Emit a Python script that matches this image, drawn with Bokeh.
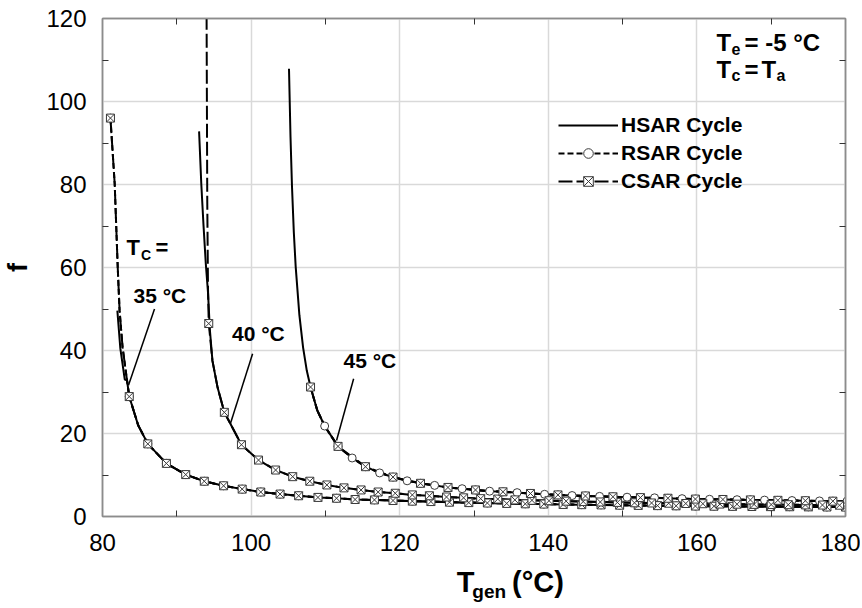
import math
from bokeh.plotting import figure
from bokeh.layouts import column
from bokeh.models import Range1d, LinearAxis, FixedTicker, Label, Legend, LegendItem
from bokeh.embed import file_html
from bokeh.resources import INLINE

FONT = "Liberation Sans"

# ---------------- data ----------------
X_TICKS = [80, 100, 120, 140, 160, 180]
X_MINOR = [90, 110, 130, 150, 170]
Y_TICKS = [0, 20, 40, 60, 80, 100, 120]
Y_MINOR = [10, 30, 50, 70, 90, 110]

# Tc = 35 C : RSAR and CSAR (marked points)
T35 = [81.07, 83.6, 86.1, 88.6, 91.2, 93.7, 96.3, 98.8, 101.3, 103.9, 106.4,
       109.0, 111.5, 114.0, 116.6, 119.1, 121.7, 124.2, 126.7, 129.3, 131.8,
       134.4, 136.9, 139.4, 142.0, 144.5, 147.1, 149.6, 152.1, 154.7, 157.2,
       159.8, 162.3, 164.8, 167.4, 169.9, 172.5, 175.0, 177.5, 180.0]
F35 = [96.0, 28.9, 17.5, 12.8, 10.1, 8.5, 7.4, 6.6, 5.9, 5.4, 5.0,
       4.6, 4.4, 4.1, 4.0, 3.85, 3.7, 3.6, 3.45, 3.35, 3.25,
       3.15, 3.05, 3.0, 2.9, 2.85, 2.8, 2.72, 2.67, 2.62, 2.57,
       2.52, 2.48, 2.45, 2.41, 2.38, 2.35, 2.32, 2.29, 2.27]
T35_EXTRA = [81.64, 82.05, 82.3, 82.7, 83.3, 84.8]
F35_EXTRA = [80.2, 60.0, 49.6, 40.8, 32.8, 22.0]
HSAR35_T = [82.0, 82.4, 83.0]
HSAR35_F = [49.6, 40.5, 33.0]

# Tc = 40 C : CSAR (marked points)
T40 = [94.3, 96.4, 98.7, 101.0, 103.3, 105.6, 107.9, 110.2, 112.5, 114.8,
       117.1, 119.4, 121.7, 124.0, 126.3, 128.6, 130.9, 133.2, 135.5, 137.8,
       140.1, 142.4, 144.7, 147.0, 149.3, 151.6, 153.9, 156.2, 158.5, 160.8,
       163.1, 165.4, 167.7, 170.0, 172.3, 174.6, 176.9, 179.2, 181.5]
F40 = [46.5, 25.1, 17.3, 13.6, 11.2, 9.6, 8.5, 7.6, 6.9, 6.4,
       5.9, 5.6, 5.2, 5.0, 4.7, 4.5, 4.3, 4.2, 4.0, 3.9,
       3.8, 3.7, 3.6, 3.5, 3.4, 3.3, 3.26, 3.2, 3.13, 3.08,
       3.0, 2.97, 2.92, 2.88, 2.84, 2.8, 2.76, 2.72, 2.7]
T40_EXTRA = [94.0, 94.1, 94.2, 94.8, 95.5]
F40_EXTRA = [125.0, 76.0, 55.0, 37.5, 31.0]
HSAR40_T = [93.0, 93.3, 93.6, 93.9, 94.2, 94.45, 94.8, 95.5]
HSAR40_F = [92.8, 80.0, 70.0, 61.0, 54.0, 45.0, 37.5, 31.0]

# Tc = 45 C : RSAR (marked points)
T45R = [108.0, 109.9, 111.7, 113.6, 115.4, 117.3, 119.1, 121.0, 122.8, 124.7,
        126.5, 128.4, 130.2, 132.1, 133.9, 135.8, 137.6, 139.5, 141.3, 143.2,
        145.0, 146.9, 148.7, 150.6, 152.4, 154.3, 156.1, 158.0, 159.8, 161.7,
        163.5, 165.4, 167.2, 169.1, 170.9, 172.8, 174.6, 176.5, 178.3, 180.2]
F45R = [31.2, 21.8, 16.9, 14.1, 12.0, 10.5, 9.5, 8.6, 8.0, 7.5,
        7.0, 6.7, 6.4, 6.1, 5.95, 5.75, 5.55, 5.35, 5.2, 5.05,
        4.95, 4.85, 4.75, 4.65, 4.55, 4.5, 4.4, 4.3, 4.2, 4.15,
        4.1, 4.05, 4.0, 3.95, 3.9, 3.85, 3.8, 3.75, 3.7, 3.7]
T45R_EXTRA = [108.9]
F45R_EXTRA = [25.6]
# Tc = 45 C : CSAR (marked points)
T45C = [108.0, 111.7, 115.4, 119.1, 122.8, 126.5, 130.2, 133.9, 137.6, 141.3,
        145.0, 148.7, 152.4, 156.1, 159.8, 163.5, 167.2, 170.9, 174.6, 178.3, 182.0]
F45C = [31.2, 16.9, 12.0, 9.5, 8.0, 7.0, 6.4, 5.95, 5.55, 5.2,
        4.95, 4.75, 4.55, 4.4, 4.2, 4.1, 4.0, 3.9, 3.8, 3.7, 3.65]
T45C_EXTRA = [108.9, 109.9]
F45C_EXTRA = [25.6, 21.8]
HSAR45_T = [105.1, 105.3, 105.5, 105.75, 106.0, 106.5, 107.0, 107.5]
HSAR45_F = [107.9, 91.7, 79.7, 68.5, 60.2, 48.5, 40.7, 35.1]

LEGEND_LABELS = ["HSAR Cycle", "RSAR Cycle", "CSAR Cycle"]


def merged(*pairs):
    pts = set()
    for ts, fs in pairs:
        pts.update(zip(ts, fs))
    pts = sorted(pts)
    return [a for a, _ in pts], [b for _, b in pts]


def with_head(head_t, head_f, tail_t, tail_f):
    t = list(head_t) + [a for a in tail_t if a > max(head_t)]
    f = list(head_f) + [b for a, b in zip(tail_t, tail_f) if a > max(head_t)]
    return t, f


# ---------------- main figure ----------------
FL, FT, FR, FB = 97, 18, 845, 516   # frame edges on the page (px)
W = 860
H_MAIN = 562
H_STRIP = 42
p = figure(width=W, height=H_MAIN, output_backend="svg", toolbar_location=None,
           x_range=Range1d(80, 180), y_range=Range1d(0, 120),
           min_border_left=FL, min_border_top=FT,
           min_border_right=W - FR, min_border_bottom=H_MAIN - FB)
p.background_fill_color = "white"
p.border_fill_color = "white"
p.outline_line_color = "#8c8c8c"
p.outline_line_width = 1.5

AX_COL = "#8c8c8c"


def style_axis(ax, labels=True):
    ax.axis_line_color = AX_COL
    ax.axis_line_width = 1.5
    ax.major_tick_in = 0
    ax.major_tick_out = 0
    ax.minor_tick_in = 6
    ax.minor_tick_out = 0
    ax.minor_tick_line_color = "#333333"
    ax.minor_tick_line_width = 1
    if labels:
        ax.major_label_text_font = FONT
        ax.major_label_text_font_size = "24px"
        ax.major_label_text_color = "black"


p.xaxis.ticker = FixedTicker(ticks=X_TICKS, minor_ticks=X_MINOR)
p.yaxis.ticker = FixedTicker(ticks=Y_TICKS, minor_ticks=Y_MINOR)
style_axis(p.xaxis[0])
style_axis(p.yaxis[0])
p.xaxis.major_label_standoff = 17
p.yaxis.major_label_standoff = 16
p.yaxis.axis_label = "f"
p.yaxis.axis_label_text_font = FONT
p.yaxis.axis_label_text_font_style = "bold"
p.yaxis.axis_label_text_font_size = "27px"
p.yaxis.axis_label_text_color = "black"
p.yaxis.axis_label_standoff = 10

# mirrored minor ticks on top / right (no major ticks, so no labels)
top = LinearAxis(ticker=FixedTicker(ticks=[], minor_ticks=X_MINOR))
right = LinearAxis(ticker=FixedTicker(ticks=[], minor_ticks=Y_MINOR))
style_axis(top, labels=False)
style_axis(right, labels=False)
p.add_layout(top, "above")
p.add_layout(right, "right")

p.xgrid.ticker = FixedTicker(ticks=X_TICKS)
p.ygrid.ticker = FixedTicker(ticks=Y_TICKS)
for g in (p.xgrid[0], p.ygrid[0]):
    g.grid_line_color = "#d9d9d9"
    g.grid_line_width = 1.5

LW = 2
DASH_R = "6 3"
DASH_C = "14 4"

# lines
h35 = with_head(HSAR35_T, HSAR35_F, *merged((T35, F35), (T35_EXTRA, F35_EXTRA)))
h40 = with_head(HSAR40_T, HSAR40_F, *merged((T40, F40), (T40_EXTRA, F40_EXTRA)))
h45 = with_head(HSAR45_T, HSAR45_F, *merged((T45R, F45R), (T45R_EXTRA, F45R_EXTRA)))

hsar_r = None
for t, f in (h35, h40, h45):
    r = p.line(t, f, line_color="black", line_width=LW)
    hsar_r = hsar_r or r

r35 = merged((T35, F35), (T35_EXTRA, F35_EXTRA))
r45 = merged((T45R, F45R), (T45R_EXTRA, F45R_EXTRA))
rsar_line = None
for t, f in (r35, r45):
    r = p.line(t, f, line_color="black", line_width=LW, line_dash=DASH_R)
    rsar_line = rsar_line or r

c35 = merged((T35, F35), (T35_EXTRA, F35_EXTRA))
c40 = merged((T40, F40), (T40_EXTRA, F40_EXTRA))
c45 = merged((T45C, F45C), (T45C_EXTRA, F45C_EXTRA))
csar_line = None
for t, f in (c35, c40, c45):
    r = p.line(t, f, line_color="black", line_width=LW, line_dash=DASH_C)
    csar_line = csar_line or r

# markers
MK = dict(size=8, fill_color="white", line_color="#3a3a3a", line_width=1)
rsar_mk = None
for t, f in ((T35, F35), (T45R, F45R)):
    r = p.scatter(t, f, marker="circle", **MK)
    rsar_mk = rsar_mk or r
csar_mk = None
for t, f in ((T35, F35), (T40, F40), (T45C, F45C)):
    r = p.scatter(t, f, marker="square_x", **MK)
    csar_mk = csar_mk or r

# leader lines (data coords of annotation pointers)
LEADERS = [((87.0, 50.0), (83.5, 31.6)),
           ((100.2, 39.2), (97.2, 22.3)),
           ((113.8, 33.2), (111.5, 18.3))]
p.segment(x0=[a[0][0] for a in LEADERS], y0=[a[0][1] for a in LEADERS],
          x1=[a[1][0] for a in LEADERS], y1=[a[1][1] for a in LEADERS],
          line_color="black", line_width=1.5)

# legend
legend = Legend(items=[
    LegendItem(label=LEGEND_LABELS[0], renderers=[hsar_r]),
    LegendItem(label=LEGEND_LABELS[1], renderers=[rsar_line, rsar_mk]),
    LegendItem(label=LEGEND_LABELS[2], renderers=[csar_line, csar_mk]),
])
legend.location = (553 - FL, FB - 193)
legend.padding = 0
legend.margin = 0
legend.spacing = 4
legend.glyph_width = 60
legend.glyph_height = 24
legend.label_height = 24
legend.label_standoff = 3
legend.border_line_alpha = 0
legend.background_fill_alpha = 0
legend.label_text_font = FONT
legend.label_text_font_style = "bold"
legend.label_text_font_size = "21px"
legend.label_text_color = "black"
p.add_layout(legend, "center")


def lab(fig, text, px, py, size, style="bold", align="left", angle=0.0, base_y=0):
    if fig is p:
        kw = dict(x=px - FL, y=FB - py, x_units="screen", y_units="screen")
    else:
        kw = dict(x=px, y=py - base_y)
    fig.add_layout(Label(text=text, text_font=FONT, text_font_size=f"{size}px",
                         text_font_style=style, text_color="black",
                         text_align=align, text_baseline="middle", angle=angle, **kw))


# in-plot annotations
lab(p, "T", 121, 247, 22)
lab(p, "C", 135.5, 254, 14)
lab(p, "=", 150, 247, 22)
lab(p, "35 °C", 128, 295, 21)
lab(p, "40 °C", 226.5, 333, 21)
lab(p, "45 °C", 338, 360, 21)

lab(p, "T", 711, 42, 24)
lab(p, "e", 726, 48, 16)
lab(p, "= -5 °C", 739, 42, 24)
lab(p, "T", 711, 69, 24)
lab(p, "c", 726, 75, 16)
lab(p, "=", 739, 69, 24)
lab(p, "T", 756, 69, 24)
lab(p, "a", 771, 75, 16)

# ---------------- strip below for the x-axis title ----------------
s = figure(width=W, height=H_STRIP, output_backend="svg", toolbar_location=None,
           x_range=Range1d(0, W), y_range=Range1d(H_STRIP, 0),
           x_axis_type=None, y_axis_type=None,
           min_border_left=0, min_border_right=0, min_border_top=0, min_border_bottom=0)
s.outline_line_color = None
s.background_fill_color = "white"
s.border_fill_color = "white"
s.xgrid.visible = False
s.ygrid.visible = False
lab(s, "T", 410, 581, 29, base_y=H_MAIN)
lab(s, "gen", 428, 591, 19, base_y=H_MAIN)
lab(s, "(°C)", 474, 581, 29, base_y=H_MAIN)

layout = column(p, s, spacing=0)
open("out.html", "w").write(file_html(layout, INLINE))
